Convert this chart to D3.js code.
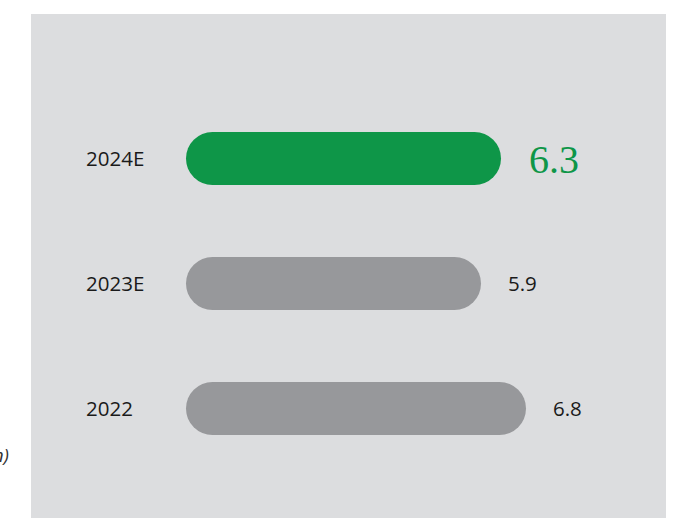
<!DOCTYPE html>
<html>
<head>
<meta charset="utf-8">
<script src="https://cdn.jsdelivr.net/npm/d3@7"></script>
<style>
  html, body { margin: 0; padding: 0; background: #ffffff; }
  svg { display: block; }
</style>
</head>
<body>
<svg id="chart" width="674" height="518"></svg>
<script>
const categories = ["2024E", "2023E", "2022"];
const values = [6.3, 5.9, 6.8];
const highlight = [true, false, false];
const valueLabels = ["6.3", "5.9", "6.8"];
const sideNote = "(US$ bn)";

const svg = d3.select("#chart");
const W = 674, H = 518;

// panel
svg.append("rect")
  .attr("x", 31).attr("y", 14)
  .attr("width", 635).attr("height", H - 14)
  .attr("fill", "#dcdddf");

// side note, cropped at the left edge as in the source
svg.append("text")
  .attr("x", 9).attr("y", 462)
  .attr("text-anchor", "end")
  .attr("font-family", "Open Sans, sans-serif")
  .attr("font-style", "italic")
  .attr("font-size", 19)
  .attr("fill", "#333")
  .text(sideNote);

const x = d3.scaleLinear().domain([0, 1]).range([186, 236]);
const y = d3.scalePoint().domain(categories).range([158.5, 408.5]);

const bh = 53;
const g = svg.append("g");

categories.forEach((c, i) => {
  const cy = y(c);
  g.append("rect")
    .attr("x", x(0))
    .attr("y", cy - bh / 2)
    .attr("width", x(values[i]) - x(0))
    .attr("height", bh)
    .attr("rx", bh / 2).attr("ry", bh / 2)
    .attr("fill", highlight[i] ? "#0e9648" : "#97989b");

  g.append("text")
    .attr("x", 86).attr("y", cy + 7.5)
    .attr("font-family", "Open Sans, sans-serif")
    .attr("font-size", 20.5)
    .attr("fill", "#1a1a1a")
    .text(c);

  if (highlight[i]) {
    g.append("text")
      .attr("x", x(values[i]) + 28).attr("y", cy + 14.5)
      .attr("font-family", "Liberation Serif, serif")
      .attr("font-size", 40)
      .attr("fill", "#0e9648")
      .text(valueLabels[i]);
  } else {
    g.append("text")
      .attr("x", x(values[i]) + 27).attr("y", cy + 7.5)
      .attr("font-family", "Open Sans, sans-serif")
      .attr("font-size", 20.5)
      .attr("fill", "#1a1a1a")
      .text(valueLabels[i]);
  }
});
</script>
</body>
</html>
